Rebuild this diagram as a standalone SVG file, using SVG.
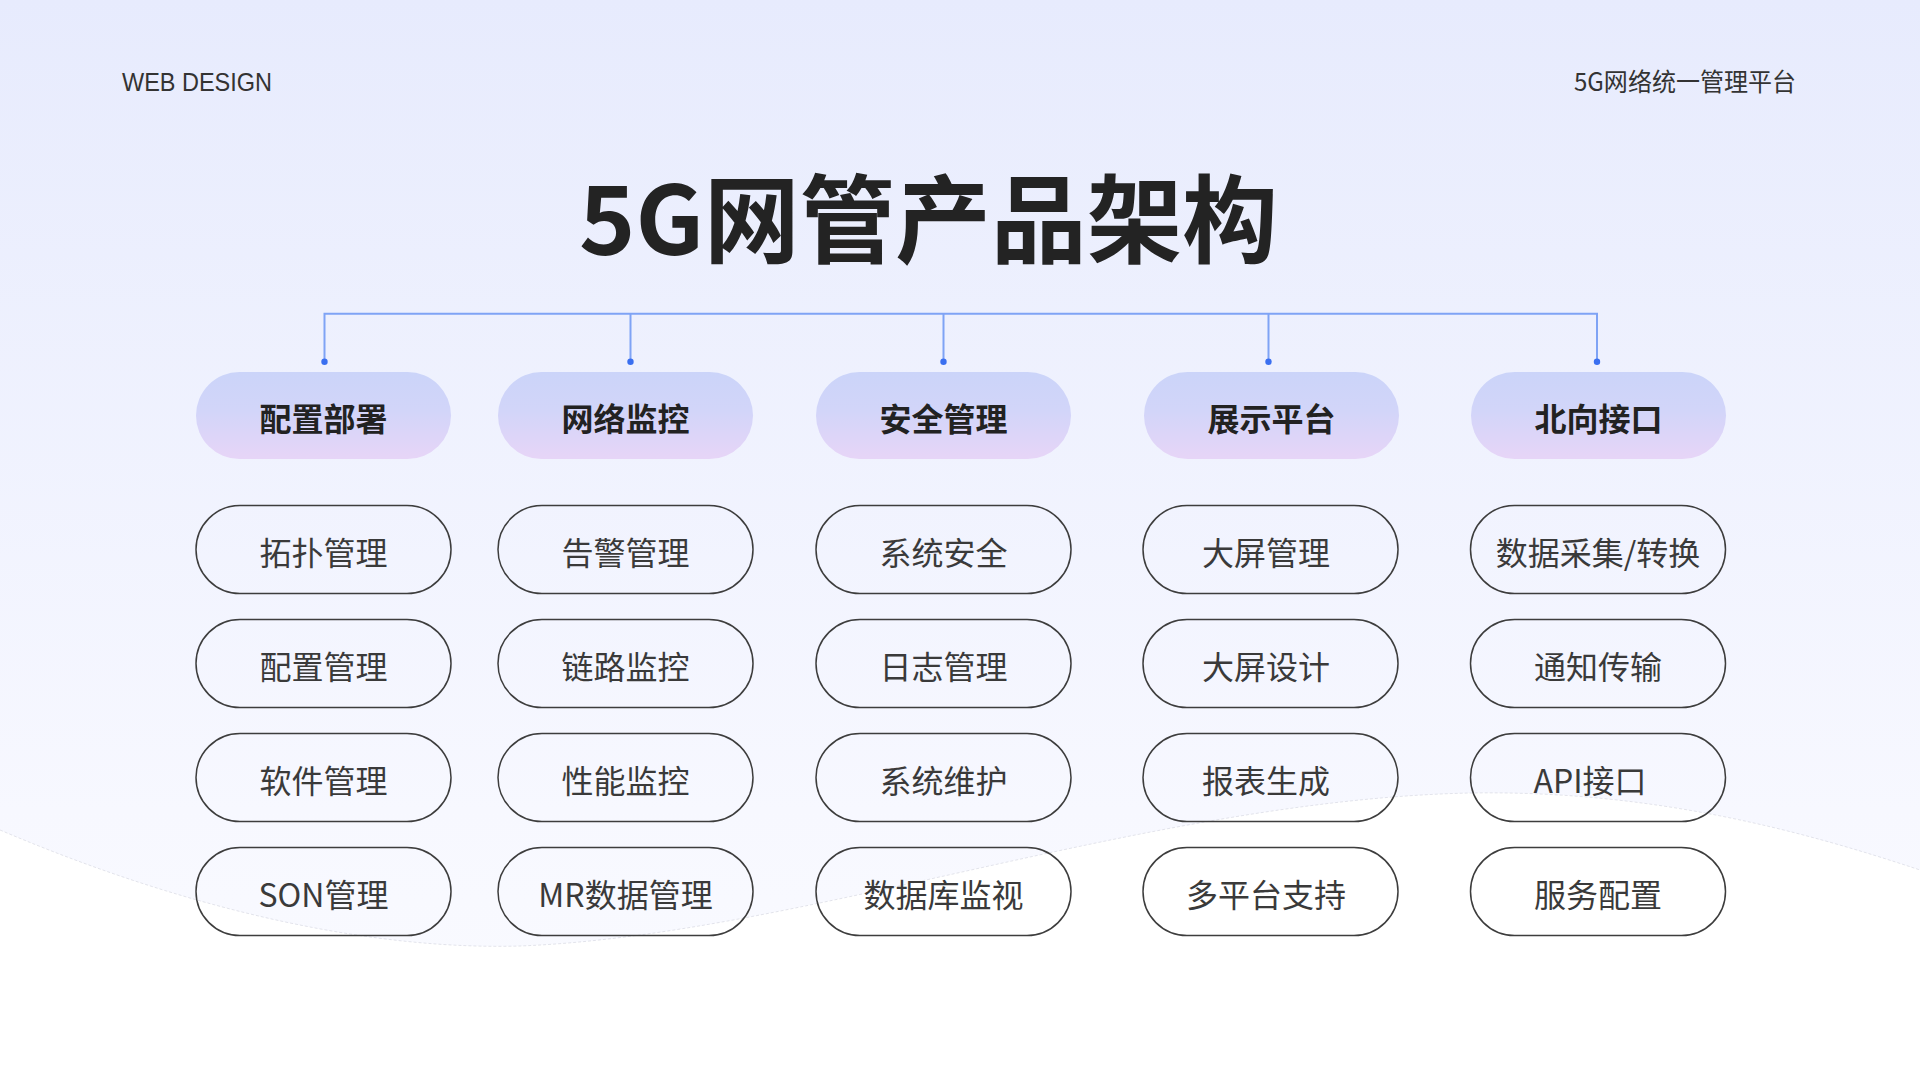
<svg xmlns="http://www.w3.org/2000/svg" width="1920" height="1080" viewBox="0 0 1920 1080">
<defs>
<linearGradient id="bg" x1="0" y1="0" x2="0" y2="1">
<stop offset="0" stop-color="#e7ebfd"/>
<stop offset="0.75" stop-color="#f7f8ff"/>
<stop offset="1" stop-color="#fafbff"/>
</linearGradient>
<linearGradient id="head" x1="0" y1="0" x2="0" y2="1">
<stop offset="0" stop-color="#cbd4f9"/>
<stop offset="0.45" stop-color="#d2d5f9"/>
<stop offset="1" stop-color="#e7d5f7"/>
</linearGradient>
<style>
.hd{fill:url(#head)}
.sb{fill:none;stroke:#3d3d3d;stroke-width:1.5}
.ht{font-family:"Noto Sans CJK SC","Noto Sans",sans-serif;font-size:32px;font-weight:700;fill:#222;text-anchor:middle}
.st{font-family:"Noto Sans CJK SC","Noto Sans",sans-serif;font-size:32px;font-weight:400;fill:#3a3a3a;text-anchor:middle}
.ln{fill:none;stroke:#7fa3f5;stroke-width:2}
.dot{fill:#3a6ff0}
</style>
</defs>
<rect width="1920" height="1080" fill="url(#bg)"/>
<path d="M0 830 C200 915 380 950 520 946 C800 935 1150 800 1470 793 C1650 790 1800 830 1920 870 L1920 1080 L0 1080 Z" fill="#ffffff"/>
<path d="M0 830 C200 915 380 950 520 946 C800 935 1150 800 1470 793 C1650 790 1800 830 1920 870" fill="none" stroke="#dcdde6" stroke-width="0.8" stroke-dasharray="3 2"/>

<text x="122" y="91" font-family="Liberation Sans, sans-serif" font-size="25" fill="#333" textLength="150" lengthAdjust="spacingAndGlyphs">WEB DESIGN</text>
<text x="1574" y="91" font-family="'Noto Sans CJK SC', sans-serif" font-size="25" fill="#333" textLength="222" lengthAdjust="spacingAndGlyphs">5G网络统一管理平台</text>
<text x="579" y="255" font-family="'Noto Sans CJK SC', sans-serif" font-size="96" font-weight="700" fill="#232323" textLength="699" lengthAdjust="spacingAndGlyphs">5G网管产品架构</text>

<g id="connectors">
<path class="ln" d="M324.5 362 V313.7 H1597 V362 M630.5 313.7 V362 M943.5 313.7 V362 M1268.5 313.7 V362"/>
<circle class="dot" cx="324.5" cy="361.7" r="3.2"/>
<circle class="dot" cx="630.5" cy="361.7" r="3.2"/>
<circle class="dot" cx="943.5" cy="361.7" r="3.2"/>
<circle class="dot" cx="1268.5" cy="361.7" r="3.2"/>
<circle class="dot" cx="1597" cy="361.7" r="3.2"/>
</g>

<g id="h1"><rect class="hd" x="196" y="372" width="255" height="87" rx="43.5"/><text class="ht" x="323.5" y="431">配置部署</text></g>
<g id="h2"><rect class="hd" x="498" y="372" width="255" height="87" rx="43.5"/><text class="ht" x="625.5" y="431">网络监控</text></g>
<g id="h3"><rect class="hd" x="816" y="372" width="255" height="87" rx="43.5"/><text class="ht" x="943.5" y="431">安全管理</text></g>
<g id="h4"><rect class="hd" x="1144" y="372" width="255" height="87" rx="43.5"/><text class="ht" x="1271.5" y="431">展示平台</text></g>
<g id="h5"><rect class="hd" x="1471" y="372" width="255" height="87" rx="43.5"/><text class="ht" x="1598.5" y="431">北向接口</text></g>

<g id="c1r1"><rect class="sb" x="196" y="505.5" width="255" height="88" rx="44"/><text class="st" x="323.5" y="564.5">拓扑管理</text></g>
<g id="c1r2"><rect class="sb" x="196" y="619.5" width="255" height="88" rx="44"/><text class="st" x="323.5" y="678.5">配置管理</text></g>
<g id="c1r3"><rect class="sb" x="196" y="733.5" width="255" height="88" rx="44"/><text class="st" x="323.5" y="792.5">软件管理</text></g>
<g id="c1r4"><rect class="sb" x="196" y="847.5" width="255" height="88" rx="44"/><text class="st" x="323.5" y="906.5">SON管理</text></g>

<g id="c2r1"><rect class="sb" x="498" y="505.5" width="255" height="88" rx="44"/><text class="st" x="625.5" y="564.5">告警管理</text></g>
<g id="c2r2"><rect class="sb" x="498" y="619.5" width="255" height="88" rx="44"/><text class="st" x="625.5" y="678.5">链路监控</text></g>
<g id="c2r3"><rect class="sb" x="498" y="733.5" width="255" height="88" rx="44"/><text class="st" x="625.5" y="792.5">性能监控</text></g>
<g id="c2r4"><rect class="sb" x="498" y="847.5" width="255" height="88" rx="44"/><text class="st" x="625.5" y="906.5">MR数据管理</text></g>

<g id="c3r1"><rect class="sb" x="816" y="505.5" width="255" height="88" rx="44"/><text class="st" x="943.5" y="564.5">系统安全</text></g>
<g id="c3r2"><rect class="sb" x="816" y="619.5" width="255" height="88" rx="44"/><text class="st" x="943.5" y="678.5">日志管理</text></g>
<g id="c3r3"><rect class="sb" x="816" y="733.5" width="255" height="88" rx="44"/><text class="st" x="943.5" y="792.5">系统维护</text></g>
<g id="c3r4"><rect class="sb" x="816" y="847.5" width="255" height="88" rx="44"/><text class="st" x="943.5" y="906.5">数据库监视</text></g>

<g id="c4r1"><rect class="sb" x="1143" y="505.5" width="255" height="88" rx="44"/><text class="st" x="1266" y="564.5">大屏管理</text></g>
<g id="c4r2"><rect class="sb" x="1143" y="619.5" width="255" height="88" rx="44"/><text class="st" x="1266" y="678.5">大屏设计</text></g>
<g id="c4r3"><rect class="sb" x="1143" y="733.5" width="255" height="88" rx="44"/><text class="st" x="1266" y="792.5">报表生成</text></g>
<g id="c4r4"><rect class="sb" x="1143" y="847.5" width="255" height="88" rx="44"/><text class="st" x="1266" y="906.5">多平台支持</text></g>

<g id="c5r1"><rect class="sb" x="1470.5" y="505.5" width="255" height="88" rx="44"/><text class="st" x="1598" y="564.5">数据采集/转换</text></g>
<g id="c5r2"><rect class="sb" x="1470.5" y="619.5" width="255" height="88" rx="44"/><text class="st" x="1598" y="678.5">通知传输</text></g>
<g id="c5r3"><rect class="sb" x="1470.5" y="733.5" width="255" height="88" rx="44"/><text class="st" x="1590" y="792.5">API接口</text></g>
<g id="c5r4"><rect class="sb" x="1470.5" y="847.5" width="255" height="88" rx="44"/><text class="st" x="1598" y="906.5">服务配置</text></g>
</svg>
